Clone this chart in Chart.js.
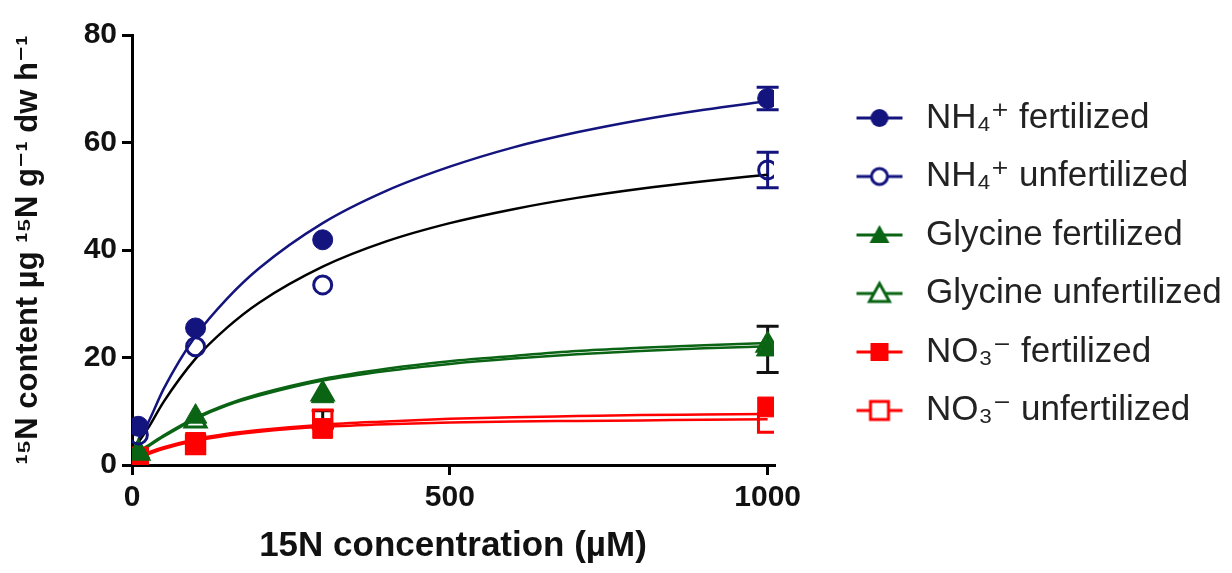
<!DOCTYPE html>
<html>
<head>
<meta charset="utf-8">
<script src="https://cdn.jsdelivr.net/npm/chart.js@4"></script>
<style>
  html, body { margin: 0; padding: 0; background: #fff; }
  #wrap { width: 1232px; height: 573px; }
</style>
</head>
<body>
<div id="wrap"><canvas id="myChart" width="1232" height="573"></canvas></div>
<script>
// measured points
const concX = [10, 100, 300, 1000];
const nh4Fert = [7.2, 25.5, 41.9, 68.2];
const nh4Unfert = [5.6, 22.0, 33.5, 54.9];
const glyFert = [2.5, 9.0, 12.8, 21.5];
const glyUnfert = [2.2, 8.2, 13.2, 22.3];
const no3Fert = [1.5, 4.2, 6.8, 10.8];
const no3Unfert = [1.2, 3.8, 8.5, 7.8];

// error bars (SEM), 0 = not visible
const nh4FertErr = [0, 0, 0, 2.1];
const nh4UnfertErr = [0, 0, 0, 3.3];
const glyFertErr = [0, 0, 0, 4.3];
const glyUnfertErr = [0, 0, 0, 0];
const no3FertErr = [0, 0, 0, 0];
const no3UnfertErr = [0, 0, 1.6, 0];

// fitted curves
const fitX = [10, 25, 50, 100, 150, 200, 300, 400, 500, 600, 700, 800, 900, 1000];
const fitNh4Fert = [4.8, 7.8, 14.2, 24.0, 31.0, 36.6, 45.0, 51.0, 55.5, 59.1, 61.9, 64.2, 66.1, 67.7];
const fitNh4Unfert = [4.2, 6.8, 11.8, 19.8, 25.6, 30.2, 36.9, 41.6, 45.0, 47.6, 49.7, 51.4, 52.8, 54.0];
const fitGlyFert = [2.4, 3.6, 5.5, 8.8, 11.3, 13.2, 16.0, 17.9, 19.3, 20.3, 21.2, 21.8, 22.3, 22.7];
const fitGlyUnfert = [2.2, 3.4, 5.3, 8.6, 11.1, 12.9, 15.7, 17.5, 18.8, 19.8, 20.6, 21.2, 21.7, 22.1];
const fitNo3Fert = [1.6, 2.3, 3.3, 4.8, 5.8, 6.5, 7.5, 8.1, 8.6, 8.9, 9.1, 9.3, 9.4, 9.5];
const fitNo3Unfert = [1.3, 2.0, 3.0, 4.5, 5.5, 6.2, 7.1, 7.6, 7.9, 8.1, 8.2, 8.3, 8.4, 8.5];

const xTicks = [0, 500, 1000];
const yTicks = [0, 20, 40, 60, 80];

const labels = [
    'NH\u2084\u207A fertilized',
    'NH\u2084\u207A unfertilized',
    'Glycine fertilized',
    'Glycine unfertilized',
    'NO\u2083\u207B fertilized',
    'NO\u2083\u207B unfertilized'
];

const NAVY = '#14147f';
const GREEN = '#0a6414';
const RED = '#ff0000';
const FONT = "'Liberation Sans', Arial, 'DejaVu Sans', sans-serif";
const LEGEND_W = 458;
const ICON_W = 111;

function pts(xs, ys) {
    return xs.map(function (x, i) { return { x: x, y: ys[i] }; });
}

function pointSet(label, ys, err, color, style, filled, radius, errColor) {
    return {
        label: label,
        data: pts(concX, ys),
        err: err,
        errColor: errColor,
        showLine: false,
        pointStyle: style,
        pointRadius: radius,
        pointHoverRadius: radius,
        pointBorderColor: color,
        pointBackgroundColor: filled ? color : 'rgba(0,0,0,0)',
        pointBorderWidth: filled ? 1 : 3,
        borderColor: color,
        backgroundColor: filled ? color : 'rgba(0,0,0,0)',
        isPoints: true
    };
}

function curveSet(ys, color) {
    return {
        label: 'fit',
        data: pts(fitX, ys),
        showLine: true,
        pointRadius: 0,
        pointHoverRadius: 0,
        borderColor: color,
        borderWidth: 2.5,
        cubicInterpolationMode: 'monotone',
        fill: false
    };
}

// legend symbol: short line with the marker on it
function legendIcon(color, style, filled) {
    const W = ICON_W, H = 34, mx = W - 29, my = H / 2;
    const c = document.createElement('canvas');
    c.width = W; c.height = H;
    const g = c.getContext('2d');
    g.strokeStyle = color;
    g.lineWidth = 3;
    g.beginPath(); g.moveTo(mx - 23, my); g.lineTo(mx + 23, my); g.stroke();
    g.beginPath();
    if (style === 'circle') {
        g.arc(mx, my, filled ? 9 : 8, 0, Math.PI * 2);
    } else if (style === 'triangle') {
        g.moveTo(mx, my - 10); g.lineTo(mx + 10, my + 8); g.lineTo(mx - 10, my + 8); g.closePath();
    } else {
        g.rect(mx - 9, my - 9, 18, 18);
    }
    if (filled) {
        g.fillStyle = color; g.fill();
    } else {
        g.fillStyle = '#fff'; g.fill(); g.lineWidth = 3; g.stroke();
    }
    return c;
}

const legendIcons = [
    legendIcon(NAVY, 'circle', true),
    legendIcon(NAVY, 'circle', false),
    legendIcon(GREEN, 'triangle', true),
    legendIcon(GREEN, 'triangle', false),
    legendIcon(RED, 'rect', true),
    legendIcon(RED, 'rect', false)
];

const errorBars = {
    id: 'errorBars',
    beforeDatasetsDraw: function (chart) {
        const ctx = chart.ctx;
        const xs = chart.scales.x, ys = chart.scales.y;
        chart.data.datasets.forEach(function (ds) {
            if (!ds.err) return;
            ds.data.forEach(function (p, i) {
                const e = ds.err[i];
                if (!e) return;
                const px = xs.getPixelForValue(p.x);
                const top = ys.getPixelForValue(p.y + e);
                const bot = ys.getPixelForValue(p.y - e);
                ctx.save();
                ctx.strokeStyle = ds.errColor;
                ctx.lineWidth = 3;
                ctx.beginPath();
                ctx.moveTo(px, top); ctx.lineTo(px, bot);
                ctx.moveTo(px - 11, top); ctx.lineTo(px + 11, top);
                ctx.moveTo(px - 11, bot); ctx.lineTo(px + 11, bot);
                ctx.stroke();
                ctx.restore();
            });
        });
    }
};

// the layout caps a side legend at a quarter of the width; give it the room it needs
const legendWidth = {
    id: 'legendWidth',
    afterInit: function (chart) {
        const lg = chart.legend;
        if (!lg) return;
        const fit = lg.fit.bind(lg);
        lg.fit = function () {
            fit();
            this.width = LEGEND_W;
        };
    }
};

const tickFont = { family: FONT, size: 30, weight: 'bold' };

const config = {
    type: 'scatter',
    data: {
        datasets: [
            pointSet(labels[0], nh4Fert, nh4FertErr, NAVY, 'circle', true, 10, NAVY),
            pointSet(labels[1], nh4Unfert, nh4UnfertErr, NAVY, 'circle', false, 9, NAVY),
            pointSet(labels[2], glyFert, glyFertErr, GREEN, 'triangle', true, 13, '#111'),
            pointSet(labels[3], glyUnfert, glyUnfertErr, GREEN, 'triangle', false, 12, '#111'),
            pointSet(labels[4], no3Fert, no3FertErr, RED, 'rect', true, 14, '#111'),
            pointSet(labels[5], no3Unfert, no3UnfertErr, RED, 'rect', false, 13, '#111'),
            curveSet(fitNh4Fert, NAVY),
            curveSet(fitNh4Unfert, '#000'),
            curveSet(fitGlyFert, GREEN),
            curveSet(fitGlyUnfert, GREEN),
            curveSet(fitNo3Fert, RED),
            curveSet(fitNo3Unfert, RED)
        ]
    },
    options: {
        responsive: false,
        animation: false,
        layout: { padding: { top: 35, right: 0, bottom: 4, left: 6 } },
        scales: {
            x: {
                type: 'linear',
                min: 0,
                max: 1010,
                afterBuildTicks: function (scale) {
                    scale.ticks = xTicks.map(function (v) { return { value: v }; });
                },
                afterFit: function (scale) { scale.height = 104; },
                border: { display: true, color: '#000', width: 3 },
                grid: { drawOnChartArea: false, drawTicks: true, tickLength: 10, color: '#000', lineWidth: 3 },
                ticks: {
                    color: '#111', font: tickFont, padding: 5, maxRotation: 0,
                    callback: function (v) { return String(v); }
                },
                title: {
                    display: true,
                    text: '15N concentration (\u00B5M)',
                    color: '#111',
                    font: { family: FONT, size: 35, weight: 'bold' },
                    padding: { top: 0, bottom: 2 }
                }
            },
            y: {
                type: 'linear',
                min: 0,
                max: 80,
                afterBuildTicks: function (scale) {
                    scale.ticks = yTicks.map(function (v) { return { value: v }; });
                },
                afterFit: function (scale) { scale.width = 126; },
                border: { display: true, color: '#000', width: 3 },
                grid: { drawOnChartArea: false, drawTicks: true, tickLength: 10, color: '#000', lineWidth: 3 },
                ticks: { color: '#111', font: tickFont, padding: 5 },
                title: {
                    display: true,
                    text: '\u00B9\u2075N content \u00B5g \u00B9\u2075N g\u207B\u00B9 dw h\u207B\u00B9',
                    color: '#111',
                    font: { family: FONT, size: 31, weight: 'bold' },
                    padding: { top: 4, bottom: 0 }
                }
            }
        },
        plugins: {
            tooltip: { enabled: false },
            legend: {
                display: true,
                position: 'right',
                align: 'start',
                title: {
                    display: true,
                    text: ' ',
                    font: { size: 20 },
                    padding: { top: 18, bottom: 0 }
                },
                labels: {
                    usePointStyle: true,
                    pointStyleWidth: ICON_W,
                    padding: 23.5,
                    color: '#222',
                    font: { family: FONT, size: 35 },
                    filter: function (item, data) {
                        return data.datasets[item.datasetIndex].isPoints;
                    },
                    generateLabels: function (chart) {
                        const items = Chart.defaults.plugins.legend.labels.generateLabels(chart);
                        items.forEach(function (it) {
                            if (it.datasetIndex < legendIcons.length) {
                                it.pointStyle = legendIcons[it.datasetIndex];
                            }
                        });
                        return items;
                    }
                }
            }
        }
    },
    plugins: [errorBars, legendWidth]
};

document.addEventListener('DOMContentLoaded', function () {
    new Chart(document.getElementById('myChart'), config);
});
</script>
</body>
</html>
